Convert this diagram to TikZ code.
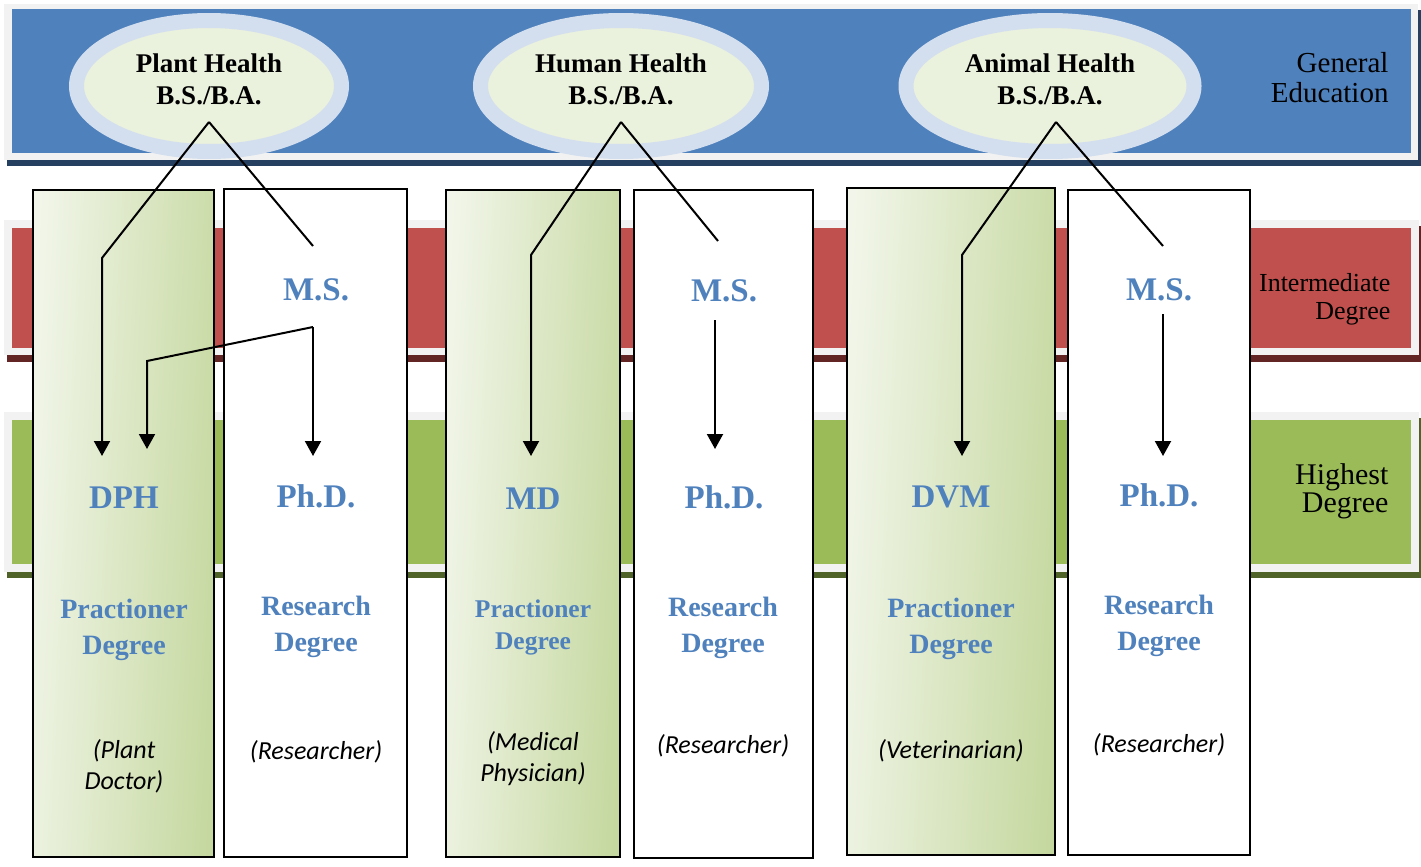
\documentclass[tikz,border=0pt]{standalone}
\usepackage{fontspec}
\setmainfont{Liberation Serif}
\newfontfamily\calfont{Carlito}
\usetikzlibrary{shapes.geometric,arrows.meta}

\definecolor{bandblue}{HTML}{4F81BD}
\definecolor{bandred}{HTML}{C0504D}
\definecolor{bandgreen}{HTML}{9BBB59}
\definecolor{shadeblue}{HTML}{243F60}
\definecolor{shadered}{HTML}{632523}
\definecolor{shadegreen}{HTML}{4F6228}
\definecolor{framegray}{HTML}{F2F2F2}
\definecolor{ringblue}{HTML}{D3DFEE}
\definecolor{ringfill}{HTML}{EAF1DD}
\definecolor{colleft}{HTML}{F2F6EA}
\definecolor{colright}{HTML}{C5D89F}
\definecolor{degblue}{HTML}{4F81BD}

\tikzset{
  ring/.style={ellipse, draw=ringblue, line width=15pt, fill=ringfill,
    minimum width=265pt, minimum height=131pt, inner sep=0pt},
  ringtext/.style={align=center, font=\fontsize{27}{32}\selectfont\bfseries},
  bandtext/.style={align=right, anchor=east, font=\fontsize{29}{30}\selectfont},
  degname/.style={text=degblue, font=\fontsize{33}{36}\selectfont\bfseries},
  kind/.style={text=degblue, align=center, font=\fontsize{28}{36}\selectfont\bfseries},
  job/.style={align=center, font=\calfont\itshape\fontsize{26}{31}\selectfont},
  practcol/.style={draw=black, line width=1.6pt, left color=colleft, right color=colright,
    shading angle=87},
  rescol/.style={draw=black, line width=1.6pt, fill=white},
  link/.style={draw=black, line width=2pt},
  arrowend/.style={-{Triangle[width=16pt,length=15pt]}},
}

\begin{document}
\begin{tikzpicture}[x=1pt, y=-1pt]

\useasboundingbox (0,0) rectangle (1421,867); % limit img size

% general education band
\fill[shadeblue] (7,10) rectangle (1421,166);
\fill[framegray] (4,4) rectangle (1418,160);
\fill[bandblue] (12,9) rectangle (1411,153);

% intermediate band
\fill[shadered] (7,226) rectangle (1421,362);
\fill[framegray] (4,220) rectangle (1419,355);
\fill[bandred] (12,228) rectangle (1411,348);

% highest band
\fill[shadegreen] (7,418) rectangle (1421,578);
\fill[framegray] (4,412) rectangle (1419,572);
\fill[bandgreen] (12,420) rectangle (1411,564);

\node[bandtext] (gened) at (1392,78) {General\\Education};
\node[bandtext, font=\fontsize{26}{28}\selectfont] (interm) at (1394,299) {Intermediate\\Degree};
\node[bandtext, font=\fontsize{30}{28}\selectfont] (highest) at (1392,491) {Highest\\Degree};

% bachelor ellipses
\node[ring] (plant) at (209,86) {};
\node[ring, minimum width=281pt] (human) at (621,86) {};
\node[ring, minimum width=288pt] (animal) at (1050,86) {};
\node[ringtext] (plant-t) at (209,79) {Plant Health\\B.S./B.A.};
\node[ringtext] (human-t) at (621,79) {Human Health\\B.S./B.A.};
\node[ringtext] (animal-t) at (1050,79) {Animal Health\\B.S./B.A.};

% columns
\draw[practcol] (33,190) rectangle (214,857);
\draw[rescol] (224,189) rectangle (407,857);
\draw[practcol] (446,190) rectangle (620,857);
\draw[rescol] (634,190) rectangle (813,858);
\draw[practcol] (847,188) rectangle (1055,855);
\draw[rescol] (1068,190) rectangle (1250,855);

% plant health
\node[degname] (ms1) at (316,290) {M.S.};
\node[degname] (dph) at (124,498) {DPH};
\node[degname] (phd1) at (316,496) {Ph.D.};
\node[kind] (dph-k) at (124,630) {Practioner\\Degree};
\node[kind] (phd1-k) at (316,627) {Research\\Degree};
\node[job] (dph-j) at (124,766) {(Plant\\Doctor)};
\node[job] (phd1-j) at (316,752) {(Researcher)};

% human health
\node[degname] (ms2) at (724,291) {M.S.};
\node[degname] (md) at (533,499) {MD};
\node[degname] (phd2) at (724,497) {Ph.D.};
\node[kind, font=\fontsize{25.5}{32}\selectfont\bfseries] (md-k) at (533,627) {Practioner\\Degree};
\node[kind] (phd2-k) at (723,628) {Research\\Degree};
\node[job] (md-j) at (533,759) {(Medical\\Physician)};
\node[job] (phd2-j) at (723,746) {(Researcher)};

% animal health
\node[degname] (ms3) at (1159,290) {M.S.};
\node[degname] (dvm) at (951,497) {DVM};
\node[degname] (phd3) at (1159,495) {Ph.D.};
\node[kind] (dvm-k) at (951,629) {Practioner\\Degree};
\node[kind] (phd3-k) at (1159,626) {Research\\Degree};
\node[job] (dvm-j) at (951,751) {(Veterinarian)};
\node[job] (phd3-j) at (1159,745) {(Researcher)};

% connector ends
\coordinate (plant apex) at (209,122);
\coordinate (plant bend) at (102,258);
\coordinate (dph in) at (102,456);
\coordinate (ms1 in) at (313,246);
\coordinate (ms1 out) at (313,327);
\coordinate (ms1 bend) at (147,361);
\coordinate (dph in2) at (147,449);
\coordinate (phd1 in) at (313,456);

\coordinate (human apex) at (621,122);
\coordinate (human bend) at (531,255);
\coordinate (md in) at (531,456);
\coordinate (ms2 in) at (718,241);
\coordinate (ms2 out) at (715,320);
\coordinate (phd2 in) at (715,449);

\coordinate (animal apex) at (1056,122);
\coordinate (animal bend) at (962,255);
\coordinate (dvm in) at (962,456);
\coordinate (ms3 in) at (1163,246);
\coordinate (ms3 out) at (1163,314);
\coordinate (phd3 in) at (1163,456);

% paths
\draw[link, arrowend] (plant apex) -- (plant bend) -- (dph in);
\draw[link] (plant apex) -- (ms1 in);
\draw[link, arrowend] (ms1 out) -- (phd1 in);
\draw[link, arrowend] (ms1 out) -- (ms1 bend) -- (dph in2);

\draw[link, arrowend] (human apex) -- (human bend) -- (md in);
\draw[link] (human apex) -- (ms2 in);
\draw[link, arrowend] (ms2 out) -- (phd2 in);

\draw[link, arrowend] (animal apex) -- (animal bend) -- (dvm in);
\draw[link] (animal apex) -- (ms3 in);
\draw[link, arrowend] (ms3 out) -- (phd3 in);

\end{tikzpicture}
\end{document}
